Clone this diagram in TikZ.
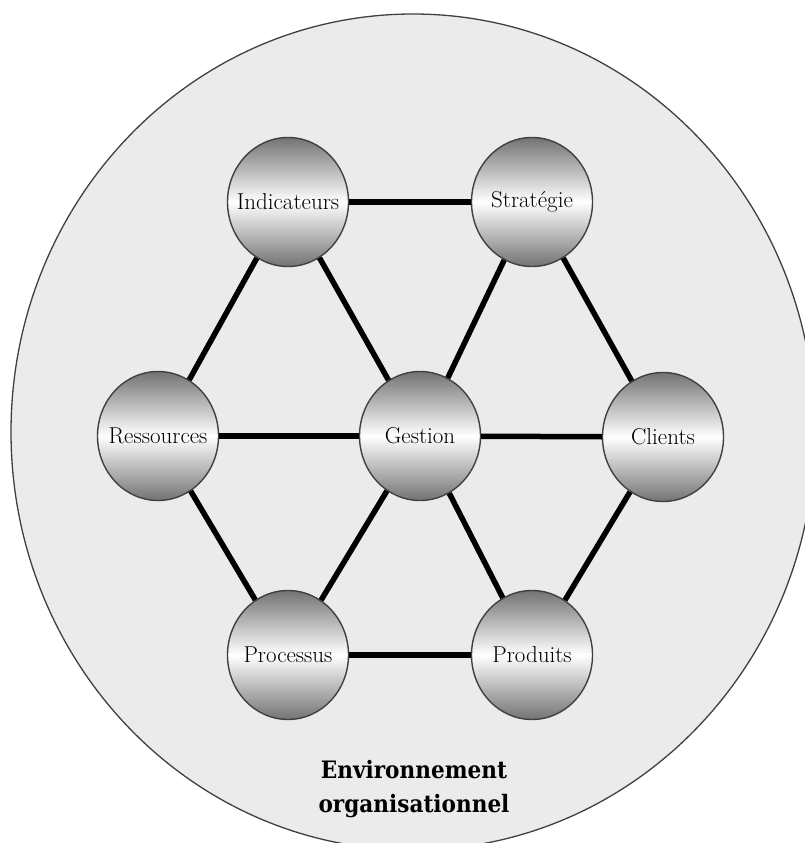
\documentclass[tikz,border=0pt]{standalone}
\usepackage{fontspec}
\newfontfamily\envfont{DejaVu Serif}[FakeStretch=0.9]
\usetikzlibrary{shapes.geometric}
\definecolor{envfill}{HTML}{EBEBEB}
\definecolor{rimgray}{HTML}{404040}
\tikzset{
  ball/.style={ellipse, draw=rimgray, line width=1.4pt, minimum width=121pt, minimum height=129pt,
    inner xsep=-25pt, inner ysep=0pt, top color=black!55, bottom color=black!55, middle color=white,
    font=\fontsize{23}{26}\selectfont},
  link/.style={line width=5.5pt, black},
  envtext/.style={font=\envfont\bfseries\fontsize{24}{34}\selectfont, align=center}
}
\begin{document}
\begin{tikzpicture}[x=1pt,y=-1pt]
\useasboundingbox (0,0) rectangle (805,843);
\draw[fill=envfill, draw=rimgray, line width=1.3pt] (413,432) ellipse [x radius=402, y radius=418];
\node[ball] (ind) at (288,202) {Indicateurs};
\node[ball] (str) at (532,202) {Stratégie};
\node[ball] (res) at (158,436) {Ressources};
\node[ball] (ges) at (420,436) {Gestion};
\node[ball] (cli) at (663,437) {Clients};
\node[ball] (pro) at (288,655) {Processus};
\node[ball] (prd) at (532,655) {Produits};
\draw[link] (ind) -- (str);
\draw[link] (ind) -- (res);
\draw[link] (ind) -- (ges);
\draw[link] (str) -- (ges);
\draw[link] (str) -- (cli);
\draw[link] (res) -- (ges);
\draw[link] (ges) -- (cli);
\draw[link] (res) -- (pro);
\draw[link] (pro) -- (ges);
\draw[link] (ges) -- (prd);
\draw[link] (cli) -- (prd);
\draw[link] (pro) -- (prd);
\node[envtext] (env) at (414,789) {Environnement\\organisationnel};
\end{tikzpicture}
\end{document}
